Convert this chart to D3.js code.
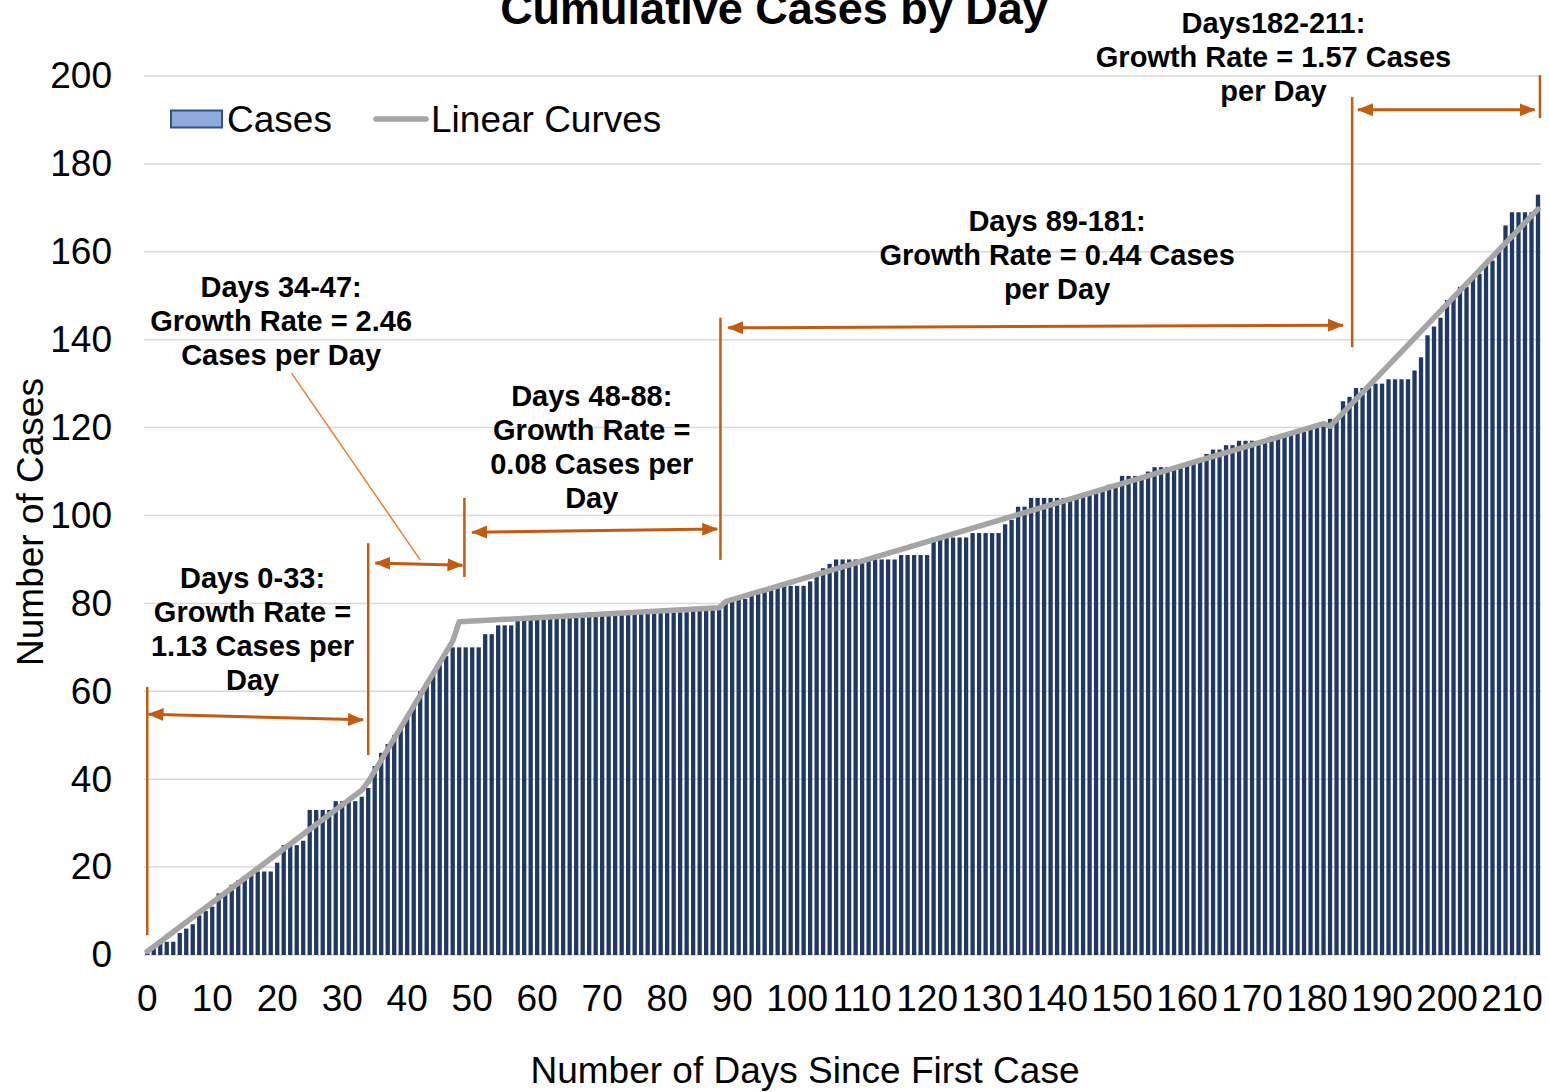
<!DOCTYPE html>
<html lang="en">
<head>
<meta charset="utf-8">
<title>Cumulative Cases by Day</title>
<script src="https://d3js.org/d3.v7.min.js"></script>
<style>
  body { margin: 0; background: #fff; }
  text { font-family: "Liberation Sans", Arial, sans-serif; }
</style>
</head>
<body>
<div id="chart"></div>
<script>
const width = 1549, height = 1092;
const margin = {top: 76, right: 8, bottom: 137, left: 144};

// one bar per day since first case
const days = d3.range(0, 215);
const cases = [
  1, 2, 3, 3, 3, 5, 6, 7, 9, 10,
  11, 14, 14, 16, 17, 18, 19, 19, 19, 19,
  21, 25, 25, 25, 26, 33, 33, 33, 33, 35,
  35, 35, 35, 36, 38, 43, 46, 48, 50, 52,
  54, 57, 60, 62, 64, 66, 68, 70, 70, 70,
  70, 70, 73, 73, 75, 75, 75, 77, 77, 77,
  77, 77, 77, 77, 77, 77, 77, 77, 78, 78,
  78, 78, 78, 78, 78, 78, 78, 78, 78, 78,
  78, 78, 78, 78, 79, 79, 79, 79, 79, 80,
  81, 81, 81, 82, 83, 83, 83, 84, 84, 84,
  84, 84, 85, 87, 88, 89, 90, 90, 90, 90,
  90, 90, 90, 90, 90, 90, 91, 91, 91, 91,
  91, 95, 95, 95, 95, 95, 95, 96, 96, 96,
  96, 96, 98, 99, 102, 102, 104, 104, 104, 104,
  104, 104, 104, 104, 105, 105, 106, 106, 107, 107,
  109, 109, 109, 109, 110, 111, 111, 111, 111, 111,
  112, 112, 113, 114, 115, 115, 116, 116, 117, 117,
  117, 117, 117, 118, 118, 118, 119, 119, 119, 120,
  120, 121, 122, 122, 126, 127, 129, 129, 129, 130,
  130, 131, 131, 131, 131, 133, 136, 141, 143, 145,
  149, 150, 152, 152, 154, 155, 157, 158, 160, 166,
  169, 169, 169, 169, 173
];

// vertices of the piecewise linear fits
const curveDays  = [0, 33, 34, 47, 48, 88, 89, 181, 182, 214];
const curveCases = [0.8, 37.5, 39.4, 71.4, 75.8, 79.0, 80.4, 120.9, 120.3, 169.7];

const xTicks = [0, 10, 20, 30, 40, 50, 60, 70, 80, 90, 100, 110, 120, 130, 140, 150, 160, 170, 180, 190, 200, 210];
const yTicks = [0, 20, 40, 60, 80, 100, 120, 140, 160, 180, 200];

const orange = "#C55A11";

let x = d3.scaleBand()
    .domain(days)
    .range([margin.left, width - margin.right + 0.25])
    .paddingInner(0.34)
    .paddingOuter(0.17);
let y = d3.scaleLinear()
    .domain([0, 200])
    .range([height - margin.bottom, margin.top]);
const cx = d => x(d) + x.bandwidth() / 2;
// annotation positions are given in chart units (day, cases)
const px = d => x(0) + x.bandwidth() / 2 + d * x.step();

let svg = d3.select("#chart").append("svg")
    .attr("width", width)
    .attr("height", height);

const defs = svg.append("defs");
defs.append("marker")
    .attr("id", "head")
    .attr("markerUnits", "userSpaceOnUse")
    .attr("viewBox", "0 -7 16 14")
    .attr("refX", 15)
    .attr("refY", 0)
    .attr("markerWidth", 16)
    .attr("markerHeight", 14)
    .attr("orient", "auto-start-reverse")
  .append("path")
    .attr("d", "M0,-6.5L16,0L0,6.5Z")
    .attr("fill", orange);

// gridlines
svg.append("g")
  .selectAll("line")
  .data(yTicks)
  .join("line")
    .attr("x1", margin.left)
    .attr("x2", width - margin.right)
    .attr("y1", d => y(d))
    .attr("y2", d => y(d))
    .attr("stroke", "#D9D9D9")
    .attr("stroke-width", 1.5);

// bars
svg.append("g")
  .selectAll("rect")
  .data(days)
  .join("rect")
    .attr("x", d => x(d))
    .attr("y", d => y(cases[d]))
    .attr("width", x.bandwidth())
    .attr("height", d => y(0) - y(cases[d]))
    .attr("fill", "#1F3864");

// linear curves
const curve = curveDays.map((d, i) => [d, curveCases[i]]);
svg.append("path")
    .datum(curve)
    .attr("fill", "none")
    .attr("stroke", "#A5A5A5")
    .attr("stroke-width", 5.5)
    .attr("stroke-linejoin", "round")
    .attr("stroke-linecap", "round")
    .attr("d", d3.line().x(d => cx(d[0])).y(d => y(d[1])));

// axes
let xAxis = d3.axisBottom(x).tickValues(xTicks).tickSize(0).tickPadding(30);
let yAxis = d3.axisLeft(y).tickValues(yTicks).tickSize(0).tickPadding(32);

svg.append("g")
    .attr("transform", `translate(0,${y(0)})`)
    .call(xAxis)
    .call(g => g.select(".domain").remove())
    .call(g => g.selectAll("text")
        .attr("font-size", 37)
        .attr("font-family", "Liberation Sans, Arial, sans-serif")
        .attr("fill", "#000"));

svg.append("g")
    .attr("transform", `translate(${margin.left},0)`)
    .call(yAxis)
    .call(g => g.select(".domain").remove())
    .call(g => g.selectAll("text")
        .attr("font-size", 37)
        .attr("font-family", "Liberation Sans, Arial, sans-serif")
        .attr("fill", "#000"));

// titles (the chart title runs off the top edge, as in the source)
svg.append("text")
    .attr("x", 774)
    .attr("y", 24)
    .attr("text-anchor", "middle")
    .attr("font-size", 45)
    .attr("font-weight", "bold")
    .text("Cumulative Cases by Day");

svg.append("text")
    .attr("x", 805)
    .attr("y", 1083)
    .attr("text-anchor", "middle")
    .attr("font-size", 37)
    .text("Number of Days Since First Case");

svg.append("text")
    .attr("transform", "translate(43,522) rotate(-90)")
    .attr("text-anchor", "middle")
    .attr("font-size", 37)
    .text("Number of Cases");

// legend
let legend = svg.append("g").attr("transform", "translate(170,119)");
legend.append("rect")
    .attr("x", 1)
    .attr("y", -8.5)
    .attr("width", 51)
    .attr("height", 17)
    .attr("fill", "#8FAADC")
    .attr("stroke", "#2F528F")
    .attr("stroke-width", 2);
legend.append("text")
    .attr("x", 57)
    .attr("y", 13)
    .attr("font-size", 37)
    .text("Cases");
legend.append("line")
    .attr("x1", 206)
    .attr("x2", 256)
    .attr("stroke", "#A5A5A5")
    .attr("stroke-width", 5.5)
    .attr("stroke-linecap", "round");
legend.append("text")
    .attr("x", 261)
    .attr("y", 13)
    .attr("font-size", 37)
    .text("Linear Curves");

// period markers and arrows
const dividers = [
  {day: 0,     from: 4.5,   to: 61},
  {day: 34,    from: 45.5,  to: 93.7},
  {day: 48.8,  from: 86,    to: 104},
  {day: 88.2,  from: 89.9,  to: 145},
  {day: 185.4, from: 138.3, to: 195.2},
  {day: 214.3, from: 190.4, to: 200.2}
];
const arrows = [
  {d1: 0.2,   v1: 54.8,  d2: 33.2,  v2: 53.5},
  {d1: 35.1,  v1: 89.2,  d2: 48.5,  v2: 88.7},
  {d1: 50,    v1: 96.2,  d2: 87.7,  v2: 96.9},
  {d1: 89.4,  v1: 142.7, d2: 184,   v2: 143.3},
  {d1: 186.3, v1: 192.3, d2: 213.5, v2: 192.3}
];

let marks = svg.append("g");
marks.selectAll(".divider")
  .data(dividers)
  .join("line")
    .attr("class", "divider")
    .attr("x1", d => px(d.day))
    .attr("x2", d => px(d.day))
    .attr("y1", d => y(d.from))
    .attr("y2", d => y(d.to))
    .attr("stroke", orange)
    .attr("stroke-width", 2.5);

marks.selectAll(".arrow")
  .data(arrows)
  .join("line")
    .attr("class", "arrow")
    .attr("x1", d => px(d.d1))
    .attr("y1", d => y(d.v1))
    .attr("x2", d => px(d.d2))
    .attr("y2", d => y(d.v2))
    .attr("stroke", orange)
    .attr("stroke-width", 3)
    .attr("marker-start", "url(#head)")
    .attr("marker-end", "url(#head)");

// callout from the days 34-47 label
marks.append("line")
    .attr("x1", px(22.2))
    .attr("y1", y(132.4))
    .attr("x2", px(42))
    .attr("y2", y(89.9))
    .attr("stroke", "#ED7D31")
    .attr("stroke-width", 1.5);

const notes = [
  {day: 16.2,  value: 85.8,  lines: ["Days 0-33:", "Growth Rate =", "1.13 Cases per", "Day"]},
  {day: 20.6,  value: 152.2, lines: ["Days 34-47:", "Growth Rate = 2.46", "Cases per Day"]},
  {day: 68.4,  value: 127.4, lines: ["Days 48-88:", "Growth Rate =", "0.08 Cases per", "Day"]},
  {day: 140,   value: 167.2, lines: ["Days 89-181:", "Growth Rate = 0.44 Cases", "per Day"]},
  {day: 173.3, value: 212.1, lines: ["Days182-211:", "Growth Rate = 1.57 Cases", "per Day"]}
];

svg.append("g")
  .selectAll("text")
  .data(notes)
  .join("text")
    .attr("text-anchor", "middle")
    .attr("font-size", 29)
    .attr("font-weight", "bold")
    .attr("transform", d => `translate(${px(d.day)},${y(d.value) + 10.5})`)
  .selectAll("tspan")
  .data(d => d.lines)
  .join("tspan")
    .attr("x", 0)
    .attr("y", (_, i) => i * 34)
    .text(d => d);
</script>
</body>
</html>
